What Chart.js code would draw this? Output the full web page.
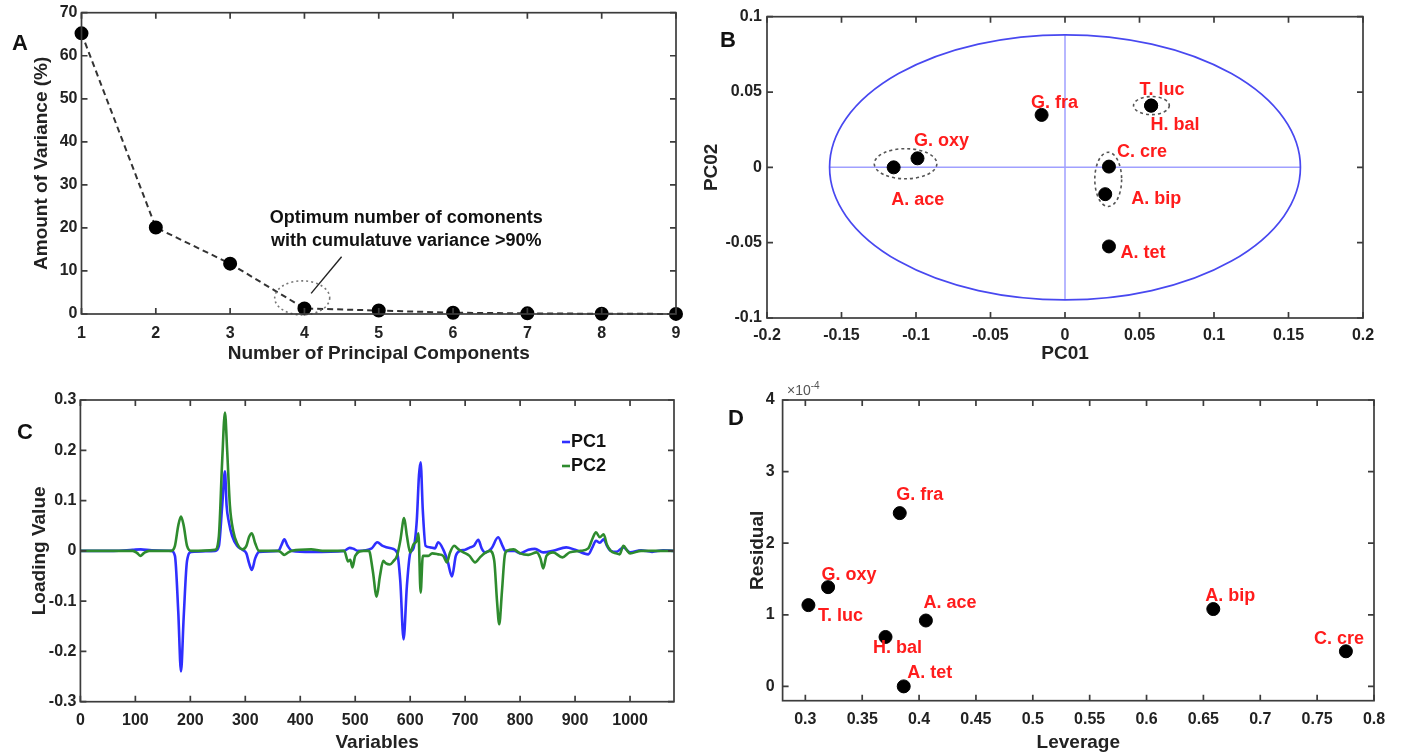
<!DOCTYPE html>
<html>
<head>
<meta charset="utf-8">
<script src="https://cdn.jsdelivr.net/npm/chart.js@4.4.1/dist/chart.umd.min.js"></script>
<style>
  body { margin: 0; background: #fff; width: 1403px; height: 754px; overflow: hidden; position: relative; font-family: 'Liberation Sans', Arial, sans-serif; }
  canvas { position: absolute; }
  .tag { position: absolute; font-weight: bold; font-size: 22px; color: #111; transform: translate(-50%, -50%); }
  .exp { position: absolute; font-size: 14px; color: #555; }
  .exp sup { font-size: 10px; }
</style>
</head>
<body>
<canvas id="chartA" width="700" height="365" style="left:0;top:0;width:700px;height:365px"></canvas>
<canvas id="chartB" width="703" height="365" style="left:700px;top:0;width:703px;height:365px"></canvas>
<canvas id="chartC" width="700" height="389" style="left:0;top:365px;width:700px;height:389px"></canvas>
<canvas id="chartD" width="703" height="389" style="left:700px;top:365px;width:703px;height:389px"></canvas>
<div class="tag" style="left:20px;top:43px">A</div>
<div class="tag" style="left:728px;top:40px">B</div>
<div class="tag" style="left:25px;top:432px">C</div>
<div class="tag" style="left:736px;top:418px">D</div>
<div class="exp" style="left:787px;top:380px">×10<sup>-4</sup></div>
<script>
// ---- A: scree plot
const pcNumbers = [1, 2, 3, 4, 5, 6, 7, 8, 9];
const varianceExplained = [65.2, 20.1, 11.7, 1.3, 0.8, 0.3, 0.15, 0.05, 0.02];
const aTicksX = [1, 2, 3, 4, 5, 6, 7, 8, 9];
const aTicksY = [0, 10, 20, 30, 40, 50, 60, 70];
const aNote = ['Optimum number of comonents', 'with cumulatuve variance >90%'];

// ---- B: score plot (PC01 vs PC02)
const species = ['A. ace', 'G. oxy', 'G. fra', 'T. luc', 'H. bal', 'C. cre', 'A. bip', 'A. tet'];
const pc01 = [-0.115, -0.099, -0.0157, 0.0578, 0.0578, 0.0295, 0.027, 0.0295];
const pc02 = [0.0, 0.006, 0.0348, 0.041, 0.041, 0.0005, -0.0178, -0.0525];
const bTicksX = [-0.2, -0.15, -0.1, -0.05, 0, 0.05, 0.1, 0.15, 0.2];
const bTickLabelsX = ['-0.2', '-0.15', '-0.1', '-0.05', '0', '0.05', '0.1', '0.15', '0.2'];
const bTicksY = [-0.1, -0.05, 0, 0.05, 0.1];
const bTickLabelsY = ['-0.1', '-0.05', '0', '0.05', '0.1'];
const limitPC01 = 0.158, limitPC02 = 0.088;
const groupCx = [-0.107, 0.058, 0.029];
const groupCy = [0.0024, 0.041, -0.008];
const groupRx = [0.021, 0.012, 0.009];
const groupRy = [0.01, 0.006, 0.018];

// ---- C: loadings
const pc1X = [0, 60, 95, 110, 130, 165, 172, 178, 183, 188, 194, 202, 245, 252, 258, 263, 266, 270, 276, 285, 295, 302, 307, 312, 318, 325, 360, 366, 371, 377, 385, 420, 480, 490, 497, 505, 530, 540, 550, 565, 576, 582, 588, 594, 600, 606, 612, 616, 619, 623, 628, 636, 645, 651, 660, 668, 676, 683, 691, 700, 709, 716, 724, 730, 736, 748, 760, 768, 773, 790, 800, 815, 827, 842, 860, 884, 900, 924, 932, 938, 945, 952, 958, 965, 975, 988, 1000, 1020, 1040, 1060, 1080];
const pc1Y = [0, 0, 0.002, 0.003, 0.001, 0, -0.01, -0.12, -0.24, -0.13, -0.02, -0.002, 0, 0.01, 0.09, 0.158, 0.09, 0.058, 0.03, 0.01, 0.002, -0.005, -0.025, -0.038, -0.015, -0.002, 0, 0.012, 0.023, 0.01, 0, -0.002, 0, 0.006, 0.004, 0, 0.005, 0.017, 0.01, 0.005, -0.003, -0.06, -0.176, -0.07, -0.005, 0.005, 0.06, 0.15, 0.176, 0.08, 0.01, 0.007, 0.005, 0.017, 0.003, -0.02, -0.051, -0.01, 0, 0.002, 0.007, 0.01, 0.022, 0.005, -0.003, 0.005, 0.027, 0.01, 0, 0, -0.005, 0.002, 0.004, -0.003, 0, 0.007, 0.002, -0.007, 0.008, 0.02, 0.016, 0.023, 0.01, 0, -0.002, 0.007, -0.003, 0.001, -0.002, 0.001, 0];
const pc2X = [0, 60, 95, 103, 109, 116, 125, 165, 172, 178, 183, 188, 194, 202, 245, 252, 258, 263, 267, 272, 278, 285, 295, 302, 307, 312, 318, 325, 360, 366, 371, 377, 385, 420, 440, 480, 487, 491, 495, 500, 515, 525, 532, 539, 545, 551, 556, 563, 570, 576, 582, 589, 594, 600, 606, 612, 615, 619, 623, 633, 640, 651, 660, 667, 672, 680, 688, 697, 708, 718, 727, 735, 745, 753, 758, 762, 767, 772, 776, 788, 800, 815, 830, 837, 842, 848, 860, 877, 890, 910, 924, 932, 938, 945, 952, 958, 965, 975, 981, 988, 995, 1000, 1020, 1040, 1060, 1080];
const pc2Y = [0, 0, 0, -0.004, -0.01, -0.004, 0, 0, 0.01, 0.05, 0.068, 0.05, 0.01, 0, 0.002, 0.03, 0.18, 0.275, 0.2, 0.09, 0.04, 0.015, 0.003, 0.01, 0.028, 0.035, 0.015, 0, 0, -0.004, -0.008, -0.004, 0, 0.003, 0, 0, -0.021, -0.018, -0.033, -0.01, 0, 0, -0.04, -0.091, -0.05, -0.02, -0.025, -0.027, -0.02, -0.01, 0.02, 0.065, 0.03, -0.003, 0.013, 0.02, 0.035, -0.083, -0.01, -0.01, -0.005, -0.007, -0.01, -0.023, -0.005, 0.01, 0.003, -0.003, -0.01, -0.023, -0.013, -0.005, 0, -0.02, -0.1, -0.146, -0.08, -0.01, 0, 0.003, -0.005, -0.008, -0.003, -0.015, -0.035, -0.01, -0.003, -0.013, -0.003, 0, 0.005, 0.025, 0.037, 0.027, 0.033, 0.012, 0, -0.005, -0.007, 0.01, 0, -0.005, 0, 0, 0, 0];
const cTicksX = [0, 100, 200, 300, 400, 500, 600, 700, 800, 900, 1000];
const cTicksY = [-0.3, -0.2, -0.1, 0, 0.1, 0.2, 0.3];
const cTickLabelsY = ['-0.3', '-0.2', '-0.1', '0', '0.1', '0.2', '0.3'];
const cSeries = ['PC1', 'PC2'];

// ---- D: influence plot (residual in units of 1e-4)
const leverage = [0.406, 0.32, 0.383, 0.3027, 0.3705, 0.7753, 0.6587, 0.3865];
const residual = [0.92, 1.386, 2.42, 1.135, 0.69, 0.49, 1.08, 0.0];
const dTicksX = [0.3, 0.35, 0.4, 0.45, 0.5, 0.55, 0.6, 0.65, 0.7, 0.75, 0.8];
const dTickLabelsX = ['0.3', '0.35', '0.4', '0.45', '0.5', '0.55', '0.6', '0.65', '0.7', '0.75', '0.8'];
const dTicksY = [0, 1, 2, 3, 4];

// label offsets (px) from each point
const bLabelOffset = [[24, 33], [24, -17], [13, -12], [11, -16], [24, 19], [33, -15], [51, 5], [34, 7]];
const dLabelOffset = [[24, -17], [21, -12], [20, -18], [32, 11], [12, 11], [-7, -12], [17, -13], [26, -13]];

const FONT = "'Liberation Sans', Arial, sans-serif";
const tickFont = { family: FONT, size: 16, weight: 'bold' };
const titleFont = { family: FONT, size: 19, weight: 'bold' };
const INK = '#222';

function xAxis(min, max, ticks, labels, title, height, tickPad, titlePad) {
  return {
    type: 'linear', min, max,
    afterBuildTicks: s => { s.ticks = ticks.map(v => ({ value: v })); },
    ticks: { font: tickFont, color: INK, padding: tickPad, maxRotation: 0, autoSkip: false,
      callback: (v, i) => labels ? labels[i] : String(v) },
    grid: { display: false, drawTicks: false }, border: { display: false },
    title: { display: true, text: title, font: titleFont, color: INK, padding: { top: titlePad, bottom: 0 } },
    afterFit: s => { s.height = height; s.paddingLeft = 0; s.paddingRight = 0; }
  };
}
function yAxis(min, max, ticks, labels, title, width, tickPad, titlePad) {
  return {
    type: 'linear', min, max,
    afterBuildTicks: s => { s.ticks = ticks.map(v => ({ value: v })); },
    ticks: { font: tickFont, color: INK, padding: tickPad, autoSkip: false,
      callback: (v, i) => labels ? labels[i] : String(v) },
    grid: { display: false, drawTicks: false }, border: { display: false },
    title: { display: true, text: title, font: titleFont, color: INK, padding: { top: titlePad, bottom: 0 } },
    afterFit: s => { s.width = width; s.paddingTop = 0; s.paddingBottom = 0; }
  };
}

const framePlugin = {
  id: 'frame',
  afterDraw(chart) {
    const { ctx, chartArea: a, scales: { x, y } } = chart;
    ctx.save();
    ctx.strokeStyle = '#3c3c3c';
    ctx.lineWidth = 1.7;
    ctx.strokeRect(a.left, a.top, a.right - a.left, a.bottom - a.top);
    ctx.beginPath();
    x.ticks.forEach(t => {
      const p = x.getPixelForValue(t.value);
      ctx.moveTo(p, a.bottom); ctx.lineTo(p, a.bottom - 6);
      ctx.moveTo(p, a.top); ctx.lineTo(p, a.top + 6);
    });
    y.ticks.forEach(t => {
      const p = y.getPixelForValue(t.value);
      ctx.moveTo(a.left, p); ctx.lineTo(a.left + 6, p);
      ctx.moveTo(a.right, p); ctx.lineTo(a.right - 6, p);
    });
    ctx.stroke();
    ctx.restore();
  }
};

function drawEllipse(chart, cx, cy, rx, ry) {
  const { ctx, scales: { x, y } } = chart;
  const px = x.getPixelForValue(cx), py = y.getPixelForValue(cy);
  const prx = Math.abs(x.getPixelForValue(cx + rx) - px);
  const pry = Math.abs(y.getPixelForValue(cy + ry) - py);
  ctx.beginPath();
  ctx.ellipse(px, py, prx, pry, 0, 0, Math.PI * 2);
  ctx.stroke();
}

function labelPlugin(xs, ys, offsets) {
  return {
    id: 'names',
    afterDatasetsDraw(chart) {
      const { ctx, scales: { x, y } } = chart;
      ctx.save();
      ctx.fillStyle = '#ff1c1c';
      ctx.font = `bold 18px ${FONT}`;
      ctx.textAlign = 'center';
      ctx.textBaseline = 'middle';
      species.forEach((name, i) => {
        ctx.fillText(name, x.getPixelForValue(xs[i]) + offsets[i][0], y.getPixelForValue(ys[i]) + offsets[i][1]);
      });
      ctx.restore();
    }
  };
}

// ---------- Chart A
new Chart(document.getElementById('chartA'), {
  type: 'scatter',
  data: {
    datasets: [{
      data: pcNumbers.map((v, i) => ({ x: v, y: varianceExplained[i] })),
      showLine: true, borderColor: '#333', borderWidth: 2, borderDash: [6, 4],
      pointRadius: 6, pointBackgroundColor: '#000', pointBorderColor: '#000', clip: false
    }]
  },
  options: {
    responsive: false, animation: false, events: [],
    layout: { padding: { left: 0, top: 12.7, right: 24, bottom: 0 } },
    plugins: { legend: { display: false }, tooltip: { enabled: false } },
    scales: {
      x: xAxis(1, 9, aTicksX, null, 'Number of Principal Components', 51, 10, 4),
      y: yAxis(0, 70, aTicksY, null, 'Amount of Variance (%)', 81.5, 4, 30)
    }
  },
  plugins: [framePlugin, {
    id: 'note',
    afterDatasetsDraw(chart) {
      const { ctx, scales: { x, y } } = chart;
      ctx.save();
      ctx.strokeStyle = '#777';
      ctx.lineWidth = 1.6;
      ctx.setLineDash([2, 3]);
      drawEllipse(chart, 3.97, 3.75, 0.37, 3.95);
      ctx.setLineDash([]);
      ctx.strokeStyle = '#222';
      ctx.lineWidth = 1.4;
      ctx.beginPath();
      ctx.moveTo(x.getPixelForValue(4.5), y.getPixelForValue(13.3));
      ctx.lineTo(x.getPixelForValue(4.09), y.getPixelForValue(4.8));
      ctx.stroke();
      ctx.fillStyle = '#111';
      ctx.font = `bold 18px ${FONT}`;
      ctx.textAlign = 'center';
      ctx.textBaseline = 'middle';
      ctx.fillText(aNote[0], x.getPixelForValue(5.37), y.getPixelForValue(22.2));
      ctx.fillText(aNote[1], x.getPixelForValue(5.37), y.getPixelForValue(17.0));
      ctx.restore();
    }
  }]
});

// ---------- Chart B
new Chart(document.getElementById('chartB'), {
  type: 'scatter',
  data: {
    datasets: [{
      data: pc01.map((v, i) => ({ x: v, y: pc02[i] })),
      pointRadius: 6.5, pointBackgroundColor: '#000', pointBorderColor: '#000'
    }]
  },
  options: {
    responsive: false, animation: false, events: [],
    layout: { padding: { left: 0, top: 16.7, right: 40, bottom: 0 } },
    plugins: { legend: { display: false }, tooltip: { enabled: false } },
    scales: {
      x: xAxis(-0.2, 0.2, bTicksX, bTickLabelsX, 'PC01', 47, 8, 2),
      y: yAxis(-0.1, 0.1, bTicksY, bTickLabelsY, 'PC02', 67, 5, 0)
    }
  },
  plugins: [framePlugin, {
    id: 'limits',
    beforeDatasetsDraw(chart) {
      const { ctx, scales: { x, y } } = chart;
      ctx.save();
      ctx.strokeStyle = '#a0a0ff';
      ctx.lineWidth = 1.5;
      ctx.beginPath();
      ctx.moveTo(x.getPixelForValue(-limitPC01), y.getPixelForValue(0));
      ctx.lineTo(x.getPixelForValue(limitPC01), y.getPixelForValue(0));
      ctx.moveTo(x.getPixelForValue(0), y.getPixelForValue(-limitPC02));
      ctx.lineTo(x.getPixelForValue(0), y.getPixelForValue(limitPC02));
      ctx.stroke();
      ctx.strokeStyle = '#4848f0';
      ctx.lineWidth = 1.7;
      drawEllipse(chart, 0, 0, limitPC01, limitPC02);
      ctx.strokeStyle = '#555';
      ctx.lineWidth = 1.6;
      ctx.setLineDash([3, 3]);
      groupCx.forEach((cx, i) => drawEllipse(chart, cx, groupCy[i], groupRx[i], groupRy[i]));
      ctx.restore();
    }
  }, labelPlugin(pc01, pc02, bLabelOffset)]
});

// ---------- Chart C (PC2 drawn on top of PC1)
new Chart(document.getElementById('chartC'), {
  type: 'scatter',
  data: {
    datasets: [
      { label: cSeries[0], data: pc1X.map((v, i) => ({ x: v, y: pc1Y[i] })), borderColor: '#2f2fff', order: 1 },
      { label: cSeries[1], data: pc2X.map((v, i) => ({ x: v, y: pc2Y[i] })), borderColor: '#2e8b2e', order: 0 }
    ].map(d => Object.assign(d, { showLine: true, pointRadius: 0, borderWidth: 2.6, cubicInterpolationMode: 'monotone' }))
  },
  options: {
    responsive: false, animation: false, events: [],
    layout: { padding: { left: 0, top: 35, right: 26, bottom: 0 } },
    plugins: { legend: { display: false }, tooltip: { enabled: false } },
    scales: {
      x: xAxis(0, 1080, cTicksX, null, 'Variables', 52.3, 9, 0),
      y: yAxis(-0.3, 0.3, cTicksY, cTickLabelsY, 'Loading Value', 80.4, 4, 28)
    }
  },
  plugins: [framePlugin, {
    id: 'key',
    afterDraw(chart) {
      const { ctx } = chart;
      ctx.save();
      ctx.font = `bold 18px ${FONT}`;
      ctx.textBaseline = 'middle';
      chart.data.datasets.forEach((d, i) => {
        const yy = 77 + i * 24;
        ctx.strokeStyle = d.borderColor;
        ctx.lineWidth = 2.6;
        ctx.beginPath(); ctx.moveTo(562, yy); ctx.lineTo(570, yy); ctx.stroke();
        ctx.fillStyle = '#111';
        ctx.fillText(d.label, 571, yy);
      });
      ctx.restore();
    }
  }]
});

// ---------- Chart D
new Chart(document.getElementById('chartD'), {
  type: 'scatter',
  data: {
    datasets: [{
      data: leverage.map((v, i) => ({ x: v, y: residual[i] })),
      pointRadius: 6.5, pointBackgroundColor: '#000', pointBorderColor: '#000'
    }]
  },
  options: {
    responsive: false, animation: false, events: [],
    layout: { padding: { left: 0, top: 35, right: 29, bottom: 0 } },
    plugins: { legend: { display: false }, tooltip: { enabled: false } },
    scales: {
      x: xAxis(0.28, 0.8, dTicksX, dTickLabelsX, 'Leverage', 53.3, 9, 0),
      y: yAxis(-0.2, 4, dTicksY, null, 'Residual', 82.6, 8, 46)
    }
  },
  plugins: [framePlugin, labelPlugin(leverage, residual, dLabelOffset)]
});
</script>
</body>
</html>
